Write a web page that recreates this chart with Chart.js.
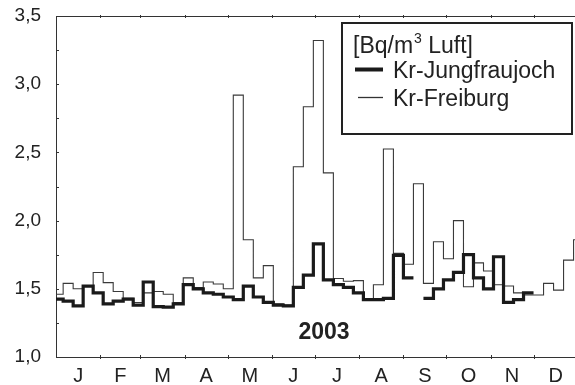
<!DOCTYPE html>
<html>
<head>
<meta charset="utf-8">
<script src="https://cdn.jsdelivr.net/npm/chart.js@4"></script>
<style>
  html, body { margin: 0; padding: 0; background: #fff; overflow: hidden; }
  canvas { display: block; }
</style>
</head>
<body>
<canvas id="krChart" width="575" height="385"></canvas>
<script>
// Kr-85 weekly means 2003, Bq/m3 air
const months = ["J", "F", "M", "A", "M", "J", "J", "A", "S", "O", "N", "D"];
const monthStartDays = [0, 31, 59, 90, 120, 151, 181, 212, 243, 273, 304, 334, 365];

// one value per sampling week (weeks start on Mondays, first one is cut at Jan 1)
const jungfraujoch = [
    1.425, 1.41, 1.375, 1.52, 1.47, 1.39, 1.41, 1.425, 1.38, 1.55,
    1.37, 1.365, 1.39, 1.53, 1.50, 1.47, 1.46, 1.44, 1.42, 1.52,
    1.44, 1.40, 1.38, 1.375, 1.51, 1.60, 1.83, 1.565, 1.53, 1.51,
    1.47, 1.42, 1.42, 1.43, 1.745, 1.58, null, 1.43, 1.50, 1.565,
    1.62, 1.75, 1.58, 1.50, 1.735, 1.40, 1.42, 1.47, null, null,
    null, null, null
];
const freiburg = [
    1.46, 1.54, 1.50, 1.52, 1.62, 1.545, 1.48, 1.43, 1.40, 1.47,
    1.48, 1.46, 1.40, 1.58, 1.51, 1.55, 1.535, 1.50, 2.92, 1.86,
    1.58, 1.67, 1.39, 1.38, 2.395, 2.835, 3.32, 2.35, 1.575, 1.555,
    1.56, 1.42, 1.53, 2.525, 1.76, 1.68, 2.27, 1.54, 1.845, 1.72,
    2.00, 1.515, 1.69, 1.63, 1.53, 1.52, 1.47, 1.455, 1.455, 1.54,
    1.49, 1.71, 1.86
];

const yTickLabels = ["1,0", "1,5", "2,0", "2,5", "3,0", "3,5"];

const FONT = "'Liberation Sans', Arial, Helvetica, sans-serif";
const INK = "#222";

// turn weekly values into flat steps on a day-of-year axis
function weekSteps(values) {
    const pts = [];
    values.forEach((v, k) => {
        const from = Math.max(0, 7 * k - 2);
        const to = 7 * k + 5;
        if (v === null) {
            pts.push({ x: from, y: null });
            return;
        }
        pts.push({ x: from, y: v }, { x: to, y: v });
    });
    return pts;
}

const monthMids = months.map((m, i) => (monthStartDays[i] + monthStartDays[i + 1]) / 2);

/* ----- frame, small tick marks, legend box, year ----- */
const decorations = {
    id: "decorations",
    afterDraw(chart) {
        const { ctx, chartArea: a, scales: { x, y } } = chart;
        ctx.save();

        ctx.strokeStyle = "#333";
        ctx.lineWidth = 1;
        ctx.beginPath();
        ctx.moveTo(a.left, a.top + 0.5);
        ctx.lineTo(a.right, a.top + 0.5);
        for (let v = 1; v <= 3.5001; v += 0.25) {
            const py = Math.round(y.getPixelForValue(v)) + 0.5;
            ctx.moveTo(a.left, py);
            ctx.lineTo(a.left + 3, py);
        }
        monthStartDays.forEach(d => {
            if (d <= 0 || d > x.max) return;
            const px = Math.round(x.getPixelForValue(d)) + 0.5;
            ctx.moveTo(px, a.bottom - 2);
            ctx.lineTo(px, a.bottom + 2);
            ctx.moveTo(px, a.top - 1);
            ctx.lineTo(px, a.top + 2);
        });
        ctx.stroke();

        // legend box
        ctx.fillStyle = "#fff";
        ctx.fillRect(342, 23, 230, 111);
        ctx.strokeStyle = INK;
        ctx.lineWidth = 2;
        ctx.strokeRect(342, 23, 230, 111);

        ctx.fillStyle = INK;
        ctx.textBaseline = "alphabetic";
        ctx.textAlign = "left";
        ctx.font = "23px " + FONT;
        let tx = 353;
        ctx.fillText("[Bq/m", tx, 53);
        tx += ctx.measureText("[Bq/m").width + 1;
        ctx.font = "14px " + FONT;
        ctx.fillText("3", tx, 43);
        tx += ctx.measureText("3").width;
        ctx.font = "23px " + FONT;
        ctx.fillText(" Luft]", tx, 53);

        ctx.fillText("Kr-Jungfraujoch", 393, 78);
        ctx.fillText("Kr-Freiburg", 393, 106);

        ctx.strokeStyle = "#1a1a1a";
        ctx.lineWidth = 4;
        ctx.beginPath();
        ctx.moveTo(355, 69.5);
        ctx.lineTo(383, 69.5);
        ctx.stroke();
        ctx.strokeStyle = "#333";
        ctx.lineWidth = 1.3;
        ctx.beginPath();
        ctx.moveTo(358, 97.5);
        ctx.lineTo(383, 97.5);
        ctx.stroke();

        // year
        ctx.font = "bold 23px " + FONT;
        ctx.textAlign = "center";
        ctx.fillText("2003", 324, 339);

        ctx.restore();
    }
};

new Chart(document.getElementById("krChart"), {
    type: "line",
    data: {
        datasets: [
            {
                label: "Kr-Jungfraujoch",
                data: weekSteps(jungfraujoch),
                borderColor: "#1a1a1a",
                borderWidth: 3.2,
                pointRadius: 0,
                tension: 0,
                spanGaps: false,
                borderJoinStyle: "miter",
                borderCapStyle: "butt"
            },
            {
                label: "Kr-Freiburg",
                data: weekSteps(freiburg),
                borderColor: "#3a3a3a",
                borderWidth: 1.1,
                pointRadius: 0,
                tension: 0,
                spanGaps: false
            }
        ]
    },
    options: {
        responsive: false,
        animation: false,
        devicePixelRatio: 1,
        layout: { padding: { top: 16, right: 0, left: 0, bottom: 0 } },
        plugins: {
            legend: { display: false },
            tooltip: { enabled: false }
        },
        scales: {
            x: {
                type: "linear",
                min: 0,
                max: 363,
                afterBuildTicks(scale) {
                    scale.ticks = monthMids.map(v => ({ value: v }));
                },
                afterFit(scale) { scale.height = 28; },
                // invisible tick marks only push the labels away from the axis
                grid: { display: true, drawOnChartArea: false, drawTicks: true, tickLength: 7, tickColor: "rgba(0,0,0,0)" },
                border: { display: true, color: "#333", width: 1 },
                ticks: {
                    autoSkip: false,
                    maxRotation: 0,
                    padding: 0,
                    color: INK,
                    font: { family: FONT, size: 20 },
                    callback: (value) => {
                        const i = monthMids.indexOf(value);
                        return i >= 0 ? months[i] : "";
                    }
                }
            },
            y: {
                min: 1,
                max: 3.5,
                afterFit(scale) { scale.width = 56; },
                grid: { display: true, drawOnChartArea: false, drawTicks: true, tickLength: 15, tickColor: "rgba(0,0,0,0)" },
                border: { display: true, color: "#333", width: 1 },
                ticks: {
                    stepSize: 0.5,
                    autoSkip: false,
                    padding: 0,
                    color: INK,
                    font: { family: FONT, size: 19 },
                    callback: (value) => yTickLabels[Math.round((value - 1) * 2)]
                }
            }
        }
    },
    plugins: [decorations]
});
</script>
</body>
</html>
